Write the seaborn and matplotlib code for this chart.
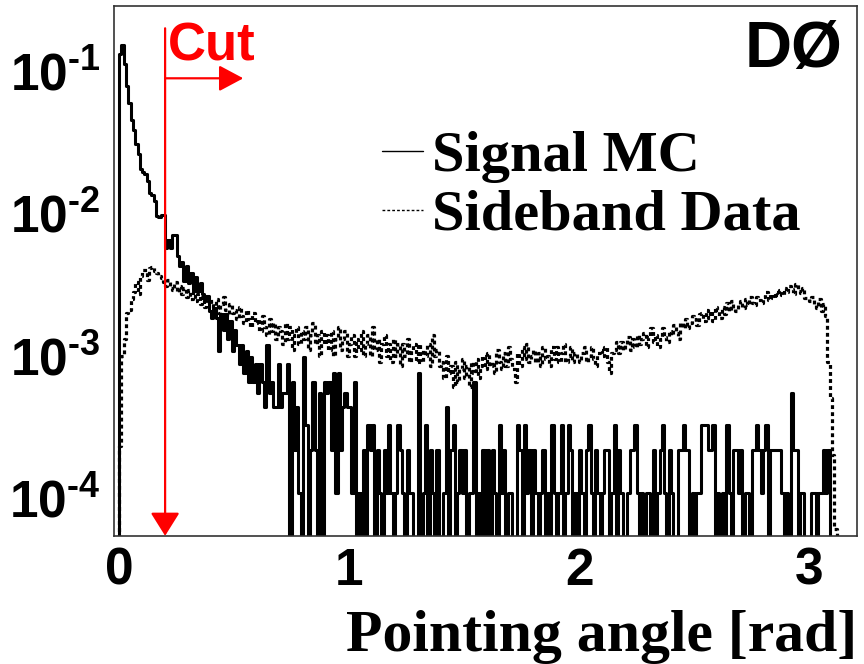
import numpy as np
import pandas as pd
import seaborn as sns
import matplotlib.pyplot as plt
from matplotlib.lines import Line2D
from matplotlib.ticker import FixedLocator, LogLocator, FuncFormatter, MultipleLocator, NullFormatter

# histogram binning (rad)
bin_width = 0.01
n_bins = 320
cut_value = 0.2

# Signal MC, entries per bin (normalised: one entry = sig_unit)
sig_unit = 1.085e-4
sig_counts = [
    1225, 1400, 1040, 720, 550, 415, 355, 285, 240, 190,
    180, 175, 155, 128, 124, 112, 88, 87, 90, 90,
    53, 60, 53, 65, 65, 46, 39, 42, 31, 39,
    30, 35, 26, 33, 26, 30, 25, 23, 24, 19,
    17, 20, 17, 10, 18, 14, 18, 12, 16, 10,
    14, 11, 8, 11, 7, 10, 6, 9, 6, 8,
    5, 8, 6, 4, 11, 5, 6, 4, 4, 8,
    4, 5, 5, 8, 0, 6, 2, 4, 1, 0,
    9, 3, 0, 2, 6, 2, 0, 5, 0, 6,
    5, 6, 2, 7, 1, 7, 2, 4, 5, 4,
    4, 1, 6, 0, 1, 0, 2, 0, 3, 2,
    3, 0, 2, 1, 0, 2, 1, 3, 1, 0,
    1, 3, 2, 1, 0, 2, 1, 1, 0, 0,
    7, 0, 1, 3, 0, 2, 1, 0, 2, 0,
    0, 1, 4, 0, 2, 3, 0, 1, 2, 1,
    2, 0, 1, 1, 6, 0, 1, 0, 2, 0,
    2, 0, 2, 1, 0, 3, 1, 2, 0, 1,
    1, 0, 0, 3, 2, 0, 3, 1, 2, 0,
    2, 1, 0, 1, 2, 0, 1, 0, 3, 1,
    0, 1, 3, 0, 1, 3, 2, 0, 1, 0,
    2, 1, 0, 2, 3, 1, 0, 2, 1, 0,
    1, 2, 2, 0, 1, 3, 0, 2, 1, 0,
    0, 1, 2, 2, 3, 1, 0, 1, 0, 1,
    1, 0, 2, 0, 1, 2, 3, 1, 0, 2,
    1, 0, 0, 2, 2, 3, 2, 2, 0, 1,
    0, 1, 1, 3, 3, 3, 2, 2, 3, 0,
    1, 0, 1, 0, 3, 1, 0, 2, 2, 1,
    2, 0, 1, 1, 0, 2, 2, 3, 2, 1,
    2, 3, 0, 2, 2, 2, 2, 2, 1, 0,
    1, 0, 5, 2, 2, 0, 1, 1, 0, 0,
    0, 1, 1, 0, 1, 1, 2, 1, 2, 0,
    0, 0, 0, 0, 0, 0, 0, 0, 0, 0,
]

# Sideband data, normalised, in units of 1e-4
side_vals = [
    2.3, 10, 13, 20, 21, 25, 28, 33, 27, 36,
    40, 40, 34, 41, 42, 39, 38, 36, 35, 33,
    31, 34, 30, 29, 33, 28, 31, 27, 30, 26,
    29, 25, 28, 24, 27, 23, 26, 22, 25, 23,
    24, 21, 25, 20, 23, 26, 21, 19, 23, 20,
    21, 18, 22, 19, 17, 21, 18, 16, 20, 17,
    18, 15, 19, 16, 14, 18, 15, 17, 13, 16,
    15, 12, 17, 13, 16, 11, 14, 16, 12, 15,
    13, 16, 11, 14, 17, 12, 14, 10, 15, 12,
    14, 11, 15, 10, 13, 16, 11, 13, 15, 10,
    12, 14, 10, 13, 11, 15, 10, 12, 14, 10,
    16, 11, 13, 9, 12, 14, 10, 12, 9, 13,
    10, 12, 8.5, 12, 10, 13, 9, 11, 12, 9,
    12, 9, 11, 10, 12, 8.5, 14, 10, 11, 8.5,
    9, 7, 10, 7.5, 8.5, 6, 9, 6.5, 8, 9.5,
    7, 8.5, 6, 9, 7.5, 9.5, 7, 8.5, 10, 8,
    10.5, 8.5, 9, 7.5, 11, 9, 8, 10.5, 8.5, 11.5,
    9.5, 8, 6.5, 10.5, 8.5, 11.5, 9.5, 12, 9, 10,
    11, 9, 10.5, 8.5, 11.5, 9.5, 10, 8.5, 11.5, 9.5,
    11.5, 9, 10.5, 12, 9, 10, 11.5, 9, 10.5, 9.5,
    9, 10.5, 11.5, 9, 10, 11.5, 9.5, 8.5, 10.5, 11,
    10, 11.5, 9, 7.5, 10.5, 11, 12.5, 10.5, 12.5, 11,
    12, 13.5, 11, 13, 11.5, 14, 12, 13, 14.5, 11.5,
    13.5, 15.5, 12.5, 14, 11.5, 13, 15.5, 13.5, 12.5, 15,
    14, 16.5, 14.5, 13, 17, 15.5, 18, 15.5, 17, 19,
    18, 16.5, 19.5, 20, 17.5, 21, 18.5, 20.5, 17.5, 22,
    21, 18.5, 22, 19.5, 23.5, 20.5, 24, 21.5, 20.5, 23,
    24, 21.5, 25, 22.5, 26, 23.5, 22.5, 26, 24.5, 23.5,
    26, 28, 24.5, 27, 25.5, 28, 26.5, 29, 26.5, 30,
    28, 31, 29.5, 27, 32, 28.5, 27.5, 30, 25.5, 25,
    24, 26, 22.5, 21.5, 25, 20.5, 23, 19, 9, 5,
    2, 0.6, 0, 0, 0, 0, 0, 0, 0, 0,
]

x_ticks = [0, 1, 2, 3]
y_ticks = [1e-4, 1e-3, 1e-2, 1e-1]

sns.set_style("white")
plt.rcParams['font.family'] = ['Liberation Sans', 'DejaVu Sans']
plt.rcParams['font.weight'] = 'bold'
plt.rcParams['text.color'] = 'black'
plt.rcParams['axes.labelcolor'] = 'black'
plt.rcParams['xtick.color'] = 'black'
plt.rcParams['ytick.color'] = 'black'
plt.rcParams['mathtext.fontset'] = 'custom'
plt.rcParams['mathtext.bf'] = 'Liberation Sans:bold'
plt.rcParams['mathtext.rm'] = 'Liberation Sans:bold'

# one empty bin in front of 0 so the outline rises from the bottom like ROOT
edges = np.arange(-1, n_bins + 1) * bin_width
centers = edges[:-1] + bin_width / 2
df = pd.DataFrame({
    'angle': centers,
    'signal': np.concatenate([[0.0], np.array(sig_counts) * sig_unit]),
    'sideband': np.concatenate([[0.0], np.array(side_vals) * 1e-4]),
})

fig = plt.figure(figsize=(8.64, 6.64), dpi=100)
ax = fig.add_axes([0.132, 0.193, 0.860, 0.798])

sns.histplot(data=df, x='angle', weights='sideband', bins=list(edges), element='step',
             fill=False, color='black', lw=2.3, linestyle=(0, (1.2, 1.0)), ax=ax)
sns.histplot(data=df, x='angle', weights='signal', bins=list(edges), element='step',
             fill=False, color='black', lw=2.2, ax=ax)

ax.set_yscale('log')
ymin, ymax = 5.4e-5, 0.287
ax.set_ylim(ymin, ymax)
ax.set_xlim(-0.022, 3.209)

# axes in ROOT style
ax.xaxis.set_major_locator(FixedLocator(x_ticks))
ax.xaxis.set_minor_locator(MultipleLocator(0.2))
ax.yaxis.set_major_locator(FixedLocator(y_ticks))
ax.yaxis.set_minor_locator(LogLocator(base=10, subs=np.arange(2, 10)))
ax.yaxis.set_minor_formatter(NullFormatter())
ax.yaxis.set_major_formatter(
    FuncFormatter(lambda v, p: r'$\mathbf{10^{\text{-}%d}}$' % abs(round(np.log10(v)))))
ax.tick_params(axis='both', which='both', direction='in', labelsize=37, width=1, color='black')
ax.tick_params(axis='x', which='major', length=11.5, pad=8)
ax.tick_params(axis='x', which='minor', length=6)
ax.tick_params(axis='y', which='major', length=16, pad=10)
ax.tick_params(axis='y', which='minor', length=8)
for lab in ax.get_xticklabels():
    lab.set_fontweight('bold')
for sp in ax.spines.values():
    sp.set_color('#333333')
    sp.set_linewidth(1.2)

ax.set_ylabel('')
ax.set_xlabel('Pointing angle [rad]', loc='right', fontsize=43, fontweight='bold',
              family='Liberation Serif', labelpad=10)

# cut marker
ax.annotate('', xy=(cut_value, ymin), xytext=(cut_value, 0.2),
            arrowprops=dict(arrowstyle='-|>,head_length=0.72,head_width=0.45',
                            color='red', lw=1.6, mutation_scale=20, shrinkA=0, shrinkB=0))
ax.annotate('', xy=(0.54, 0.089), xytext=(cut_value, 0.089),
            arrowprops=dict(arrowstyle='-|>,head_length=0.75,head_width=0.4',
                            color='red', lw=1.6, mutation_scale=20, shrinkA=0, shrinkB=0))
ax.text(0.213, 0.119, 'Cut', color='red', fontsize=38, fontweight='bold', va='baseline')

ax.text(0.98, 0.974, 'DØ', transform=ax.transAxes, ha='right', va='top',
        fontsize=47, fontweight='bold')

handles = [Line2D([], [], color='black', lw=1.0),
           Line2D([], [], color='black', lw=1.0, linestyle=(0, (2, 1.5)))]
ax.legend(handles, ['Signal MC', 'Sideband Data'], loc='upper left',
          bbox_to_anchor=(0.361, 0.765), frameon=False, borderpad=0, borderaxespad=0,
          handlelength=0.69, handletextpad=0.17, labelspacing=0.1,
          prop={'family': 'Liberation Serif', 'weight': 'bold', 'size': 42})

fig.savefig('out.png', dpi=100)
